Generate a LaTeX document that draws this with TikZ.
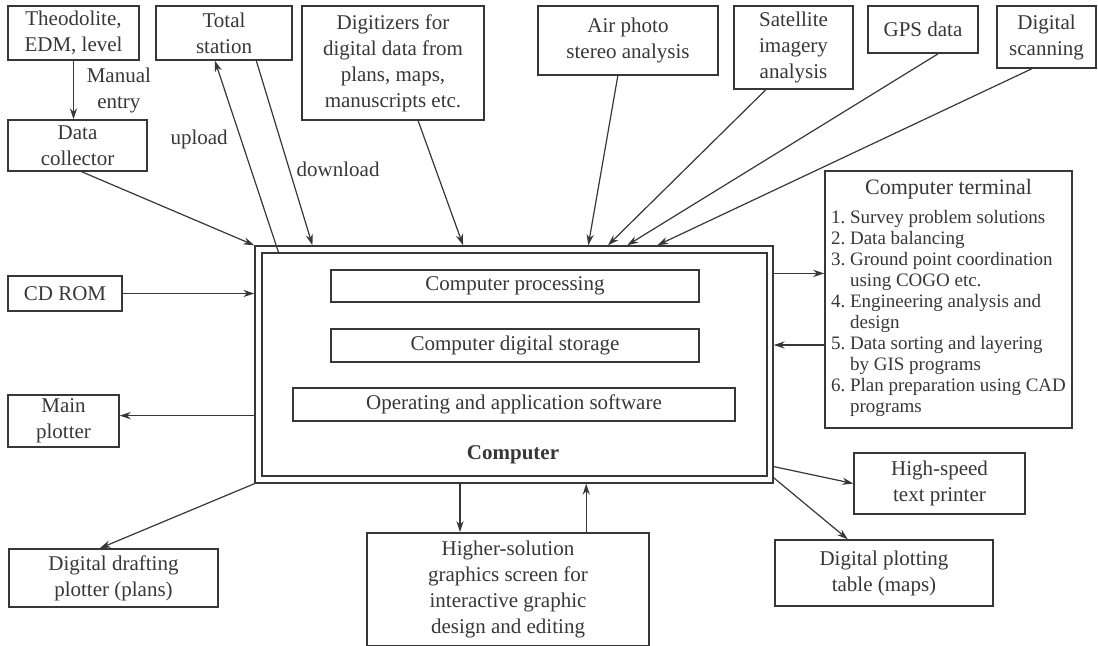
\documentclass[tikz,border=0pt]{standalone}
\usepackage{fontspec}
\setmainfont{Liberation Serif}
\usetikzlibrary{arrows.meta,positioning,calc}
\definecolor{tinta}{RGB}{55,55,55}
\tikzset{
  caja/.style={
    rectangle, draw=tinta, line width=0.75pt, align=center, text=tinta,
    font=\fontsize{10.5}{13}\selectfont, inner sep=2pt},
  flecha/.style={-{Stealth[length=5.5pt,width=3.6pt]}, draw=tinta, line width=0.6pt},
  etiq/.style={font=\fontsize{10.5}{13}\selectfont, text=tinta, align=center}
}

\begin{document}
\begin{tikzpicture}[x=0.5pt,y=-0.5pt]
\useasboundingbox (0,0) rectangle (1098,645);

% fila superior
\node[caja, minimum width=65.5pt, minimum height=27pt] (teodolito) at (73.5,33) {Theodolite,\\EDM, level};
\node[caja, minimum width=68pt, minimum height=27pt] (estacion) at (224,33) {Total\\station};
\node[caja, minimum width=91pt, minimum height=57pt] (digitalizador) at (393,63)
  {Digitizers for\\digital data from\\plans, maps,\\manuscripts etc.};
\node[caja, minimum width=90pt, minimum height=34.5pt] (aerofoto) at (628,40.5) {Air photo\\stereo analysis};
\node[caja, minimum width=59.5pt, minimum height=41.5pt] (satelite) at (793.5,47.5) {Satellite\\imagery\\analysis};
\node[caja, minimum width=55pt, minimum height=23.5pt] (gps) at (923,29.5) {GPS data};
\node[caja, minimum width=49.5pt, minimum height=31pt] (escaneo) at (1046.5,37) {Digital\\scanning};

% lado izquierdo
\node[caja, minimum width=69.5pt, minimum height=25.5pt] (colector) at (77.5,145.5) {Data\\collector};
\node[caja, minimum width=57pt, minimum height=17.5pt] (cdrom) at (65,293.5) {CD ROM};
\node[caja, minimum width=55.5pt, minimum height=26pt] (trazador) at (63.5,421) {Main\\plotter};

% computador
\node[caja, minimum width=259pt, minimum height=118.5pt] (computador) at (514,364.5) {};
\node[caja, minimum width=252.5pt, minimum height=111.5pt] (compint) at (514.5,364.5) {};
\node[caja, minimum width=184pt, minimum height=16pt] (proceso) at (515,286) {Computer processing};
\node[caja, minimum width=184pt, minimum height=16.5pt] (almacen) at (515,345.5) {Computer digital storage};
\node[caja, minimum width=221pt, minimum height=16.5pt] (software) at (514,404.5) {Operating and application software};
\node[etiq, font=\fontsize{10.5}{13}\selectfont\bfseries] (rotulo) at (513,455) {Computer};

% terminal
\node[caja, minimum width=123.5pt, minimum height=128.5pt, anchor=north] (terminal) at (948.5,170) {%
  \fontsize{9.5}{10.5}\selectfont
  \begin{tabular}{@{}l@{\ }l@{}}
    \multicolumn{2}{c}{\fontsize{11}{13}\selectfont Computer terminal}\\[4pt]
    1. & Survey problem solutions\\
    2. & Data balancing\\
    3. & Ground point coordination\\
       & using COGO etc.\\
    4. & Engineering analysis and\\
       & design\\
    5. & Data sorting and layering\\
       & by GIS programs\\
    6. & Plan preparation using CAD\\
       & programs
  \end{tabular}};

% fila inferior
\node[caja, minimum width=85.5pt, minimum height=30.5pt] (impresora) at (939.5,483.5) {High-speed\\text printer};
\node[caja, minimum width=109pt, minimum height=33pt] (mesa) at (884,573) {Digital plotting\\table (maps)};
\node[caja, minimum width=104.5pt, minimum height=29pt] (dibujo) at (113.5,578) {Digital drafting\\plotter (plans)};
\node[caja, minimum width=141pt, anchor=north, inner ysep=4pt] (pantalla) at (508,532)
  {Higher-solution\\graphics screen for\\interactive graphic\\design and editing};

% puntos de enlace
\coordinate (trazadorin) at ($(trazador.north east)!0.4!(trazador.south east)$);
\coordinate (terminalin) at ($(terminal.north west)!0.4!(terminal.south west)$);
\coordinate (terminalout) at ($(terminal.north west)!0.677!(terminal.south west)$);
\coordinate (pantallain) at ($(computador.south west)!0.396!(computador.south east)$);
\coordinate (pantallaout) at ($(computador.south west)!0.639!(computador.south east)$);

% Theodolite --> Data collector
\draw[flecha] (teodolito.south) -- (teodolito.south |- colector.north)
      node[midway,right=3pt,etiq]{Manual\\entry};

% Data collector --> Computer
\draw[flecha] ($(colector.south west)!0.53!(colector.south east)$) -- (computador.north west);

% Computer --> Total station (upload), Total station --> Computer (download)
\draw[flecha] ($(compint.north west)!0.034!(compint.north east)$)
      -- ($(estacion.south west)!0.434!(estacion.south east)$)
      node[pos=0.59,left=3pt,etiq]{upload};
\draw[flecha] ($(estacion.south west)!0.735!(estacion.south east)$)
      -- ($(computador.north west)!0.112!(computador.north east)$)
      node[pos=0.59,right=0pt,etiq]{download};

% entradas por arriba
\draw[flecha] ($(digitalizador.south west)!0.637!(digitalizador.south east)$)
      -- ($(computador.north west)!0.402!(computador.north east)$);
\draw[flecha] ($(aerofoto.south west)!0.444!(aerofoto.south east)$)
      -- ($(computador.north west)!0.643!(computador.north east)$);
\draw[flecha] ($(satelite.south west)!0.27!(satelite.south east)$)
      -- ($(computador.north west)!0.681!(computador.north east)$);
\draw[flecha] ($(gps.south west)!0.636!(gps.south east)$)
      -- ($(computador.north west)!0.718!(computador.north east)$);
\draw[flecha] ($(escaneo.south west)!0.354!(escaneo.south east)$)
      -- ($(computador.north west)!0.776!(computador.north east)$);

% CD ROM --> Computer --> Main plotter
\draw[flecha] (cdrom.east) -- (cdrom.east -| computador.west);
\draw[flecha] (trazadorin -| computador.west) -- (trazadorin);

% Computer <--> Computer terminal
\draw[flecha] (terminalin -| computador.east) -- (terminalin);
\draw[flecha] (terminalout) -- (terminalout -| computador.east);

% salidas
\draw[flecha] ($(computador.north east)!0.928!(computador.south east)$) -- (impresora.west);
\draw[flecha] ($(computador.north east)!0.975!(computador.south east)$)
      -- ($(mesa.north west)!0.335!(mesa.north east)$);
\draw[flecha] (computador.south west) -- ($(dibujo.north west)!0.435!(dibujo.north east)$);

% Computer <--> graphics screen
\draw[flecha] (pantallain) -- (pantallain |- pantalla.north);
\draw[flecha] (pantallaout |- pantalla.north) -- (pantallaout);

\end{tikzpicture}
\end{document}
